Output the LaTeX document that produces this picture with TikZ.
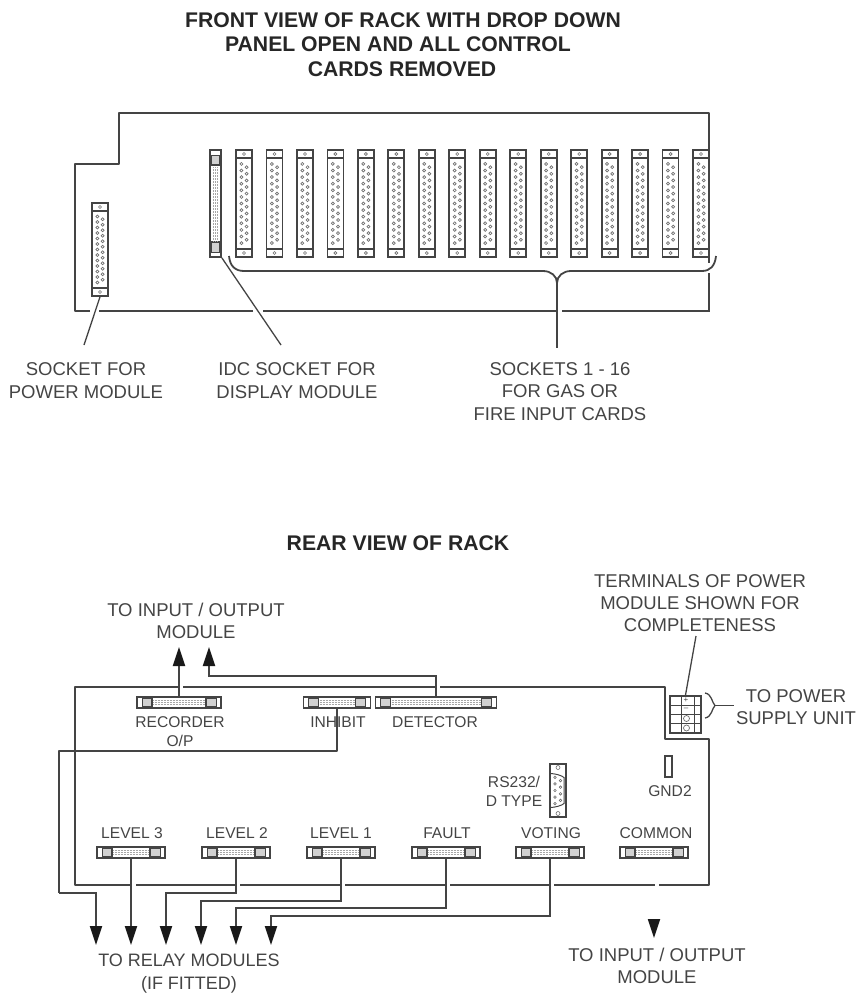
\documentclass[tikz,border=0pt]{standalone}
\usepackage{fontspec}
\setmainfont{Liberation Sans}
\usetikzlibrary{arrows.meta}
\definecolor{inkgray}{HTML}{444444}
\definecolor{pingray}{HTML}{707070}

\tikzset{
  wire/.style={draw=inkgray,line width=1.8pt},
  tipline/.style={wire,-{Triangle[length=19pt,width=12pt,color=black!90]}},
  heading/.style={font=\bfseries\fontsize{21.2}{24}\selectfont,text=black!85,inner sep=0pt},
  biglabel/.style={font=\fontsize{18.5}{22.3}\selectfont,text=inkgray,align=center,inner sep=0pt},
  smalllabel/.style={font=\fontsize{15.6}{19}\selectfont,text=inkgray,align=center,inner sep=0pt},
  % half height, pin pitch
  dsocket/.style 2 args={draw=inkgray,line width=1.8pt,minimum width=16pt,minimum height=2*#1,
    inner sep=0pt,path picture={
      \begin{scope}[shift={(path picture bounding box.center)}]
        \draw[inkgray,line width=1.1pt] (-8,-#1+8) -- (8,-#1+8) (-8,#1-8) -- (8,#1-8);
        \draw[pingray,line width=.6pt] (0,-#1+4) circle (1.5) (0,#1-4) circle (1.5);
        \foreach \p in {-6,...,6}
          \draw[pingray,line width=.7pt] (-2.6,\p*#2) circle (1.5);
        \foreach \p in {-6,...,5}
          \draw[pingray,line width=.7pt] (2.6,\p*#2+.5*#2) circle (1.5);
      \end{scope}}},
  % half width of the strip
  stripsocket/.style={draw=inkgray,line width=1.8pt,minimum width=2*#1,minimum height=11pt,
    inner sep=0pt,path picture={
      \begin{scope}[shift={(path picture bounding box.center)}]
        \fill[black!18] (-#1+5,-4) rectangle (-#1+15,4) (#1-15,-4) rectangle (#1-5,4);
        \draw[inkgray,line width=.5pt] (-#1+5,-4) rectangle (-#1+15,4) (#1-15,-4) rectangle (#1-5,4);
        \draw[inkgray,line width=1.1pt] (-#1+15,-6) -- (-#1+15,6) (#1-15,-6) -- (#1-15,6);
        \draw[black!35,line width=.5pt,densely dotted] (-#1+16,-2) -- (#1-16,-2) (-#1+16,0) -- (#1-16,0) (-#1+16,2) -- (#1-16,2);
      \end{scope}}}
}

\begin{document}
\begin{tikzpicture}[x=1pt,y=-1pt]
  \useasboundingbox (0,0) rectangle (861,993);

  % front view
  \node[heading] (title1) at (403,20) {FRONT VIEW OF RACK WITH DROP DOWN};
  \node[heading] (title2) at (398,44) {PANEL OPEN AND ALL CONTROL};
  \node[heading] (title3) at (402,69) {CARDS REMOVED};

  \node[dsocket={46.5}{5.5}] (power) at (100,249.5) {};
  \node[stripsocket=53.5,rotate=90] (idc) at (215.5,203.5) {};
  \foreach \i [evaluate=\i as \x using {244+30.47*(\i-1)}] in {1,...,16}
    \node[dsocket={53.5}{6.6}] (sock\i) at (\x,203.5) {};

  \draw[wire,line join=round] (90,311) -- (75,311) -- (75,164) -- (119,164) -- (119,113)
    -- (709,113) -- (709,263);
  \draw[wire] (709,273) -- (709,311) -- (562,311);
  \draw[wire] (557,311) -- (263,311);
  \draw[wire] (253,311) -- (99,311);

  % brace under the sockets
  \coordinate (braceL) at (229,256);
  \coordinate (braceR) at (716,256);
  \coordinate (braceTip) at (557,283);
  \coordinate (braceEnd) at (557,348);
  \draw[wire] (braceL) .. controls (230,266) and (235,271) .. (244,271) -- (543,271)
    .. controls (551,271) and (557,276) .. (braceTip)
    .. controls (557,276) and (563,271) .. (571,271) -- (702,271)
    .. controls (710,271) and (715,266) .. (braceR);
  \draw[wire] (braceTip) -- (braceEnd);

  \coordinate (powerEnd) at (84,345);
  \coordinate (idcEnd) at (281,345);
  \draw[wire,line width=1.3pt] (power.south) -- (powerEnd);
  \draw[wire,line width=1.3pt] (idc.south west) -- (idcEnd);

  \node[biglabel] (powerText) at (86,380.5) {SOCKET FOR\\POWER MODULE};
  \node[biglabel] (idcText) at (297,380.5) {IDC SOCKET FOR\\DISPLAY MODULE};
  \node[biglabel] (sockText) at (560,391.5) {SOCKETS 1 - 16\\FOR GAS OR\\FIRE INPUT CARDS};

  % rear view
  \node[heading] (title4) at (398,543) {REAR VIEW OF RACK};

  \draw[wire,line join=round] (178,687) -- (75,687) -- (75,885) -- (131,885);
  \draw[wire,line join=round] (183,687) -- (436,687);
  \draw[wire,line join=round] (440,687) -- (665,687) -- (665,739) -- (709,739) -- (709,885) -- (659,885);
  \foreach \a/\b in {136/236,240/341,345/446,450/550,554/655}
    \draw[wire] (\a,885) -- (\b,885);

  \node[stripsocket=42] (recorder) at (179,702.5) {};
  \node[stripsocket=33.5] (inhibit) at (337,702.5) {};
  \node[stripsocket=60.5] (detector) at (436,702.5) {};
  \node[stripsocket=34] (lvl3) at (131,852.5) {};
  \node[stripsocket=34] (lvl2) at (236,852.5) {};
  \node[stripsocket=34] (lvl1) at (341,852.5) {};
  \node[stripsocket=34] (fault) at (446,852.5) {};
  \node[stripsocket=34] (voting) at (550,852.5) {};
  \node[stripsocket=34] (common) at (654,852.5) {};

  \node[smalllabel] (recorderText) at (180,731.5) {RECORDER\\O/P};
  \node[smalllabel] (inhibitText) at (338,722) {INHIBIT};
  \node[smalllabel] (detectorText) at (435,722) {DETECTOR};
  \node[smalllabel] (lvl3Text) at (132,833) {LEVEL 3};
  \node[smalllabel] (lvl2Text) at (237,833) {LEVEL 2};
  \node[smalllabel] (lvl1Text) at (341,833) {LEVEL 1};
  \node[smalllabel] (faultText) at (447,833) {FAULT};
  \node[smalllabel] (votingText) at (551,833) {VOTING};
  \node[smalllabel] (commonText) at (656,833) {COMMON};

  % rs232 connector
  \node[draw=inkgray,line width=1.8pt,minimum width=16pt,minimum height=53pt,inner sep=0pt,path picture={
      \begin{scope}[shift={(path picture bounding box.center)}]
        \draw[inkgray,line width=1pt] (-8,-17) .. controls (-3,-17) and (4,-15) .. (6,-13) -- (6,13)
          .. controls (4,15) and (-3,17) .. (-8,17);
        \draw[pingray,line width=.6pt] (0,-23) circle (2) (0,23) circle (2);
        \foreach \p in {-2,...,2}
          \draw[pingray,line width=.6pt] (-3,\p*6.6) circle (1.3);
        \foreach \p in {-1.5,-.5,.5,1.5}
          \draw[pingray,line width=.6pt] (2.5,\p*6.6) circle (1.3);
      \end{scope}}] (rs232) at (558,790.5) {};
  \node[smalllabel] (rs232Text) at (514,791) {RS232/\\D TYPE};

  \node[draw=inkgray,line width=1.3pt,minimum width=7pt,minimum height=21pt,inner sep=0pt] (gnd) at (668.5,766.5) {};
  \node[smalllabel] (gndText) at (670,791) {GND2};

  % power terminals
  \node[draw=inkgray,line width=1.8pt,minimum width=31pt,minimum height=37pt,inner sep=0pt,path picture={
      \begin{scope}[shift={(path picture bounding box.center)}]
        \draw[inkgray,line width=.5pt] (-4.5,-19) -- (-4.5,19) (8.5,-19) -- (8.5,19)
          (-16,-9.5) -- (16,-9.5) (-16,-.5) -- (16,-.5) (-16,8.5) -- (16,8.5);
        \draw[pingray,line width=.7pt] (1,4) circle (3) (1,13.5) circle (3);
      \end{scope}}] (term) at (685.5,714.5) {};
  \node[inkgray,inner sep=0pt,font=\fontsize{8}{8}\selectfont] (termPlus) at (686,700.5) {+};
  \node[inkgray,inner sep=0pt,font=\fontsize{8}{8}\selectfont] (termMinus) at (686,709.5) {--};

  \coordinate (termEnd) at (696,636);
  \draw[wire,line width=1.3pt] (term.north) -- (termEnd);
  \node[biglabel,font=\fontsize{18.5}{22}\selectfont] (termText) at (700,603) {TERMINALS OF POWER\\MODULE SHOWN FOR\\COMPLETENESS};

  \coordinate (supplyA) at (705,693);
  \coordinate (supplyB) at (705,718);
  \coordinate (supplyMid) at (715,705.5);
  \coordinate (supplyEnd) at (734,705.5);
  \draw[wire,line width=1.3pt] (supplyA) .. controls (712,694) and (712,703) .. (supplyMid)
    .. controls (712,708) and (712,717) .. (supplyB);
  \draw[wire,line width=1.3pt] (supplyMid) -- (supplyEnd);
  \node[biglabel,font=\fontsize{18.5}{22}\selectfont] (supplyText) at (796,707) {TO POWER\\SUPPLY UNIT};

  % arrows out of the rack
  \coordinate (upA) at (179,647);
  \coordinate (upB) at (209,647);
  \coordinate (detectorBend) at (436,676);
  \draw[tipline] (recorder.north) -- (upA);
  \draw[tipline] (detector.north) -- (detectorBend) -| (upB);
  \node[biglabel,font=\fontsize{18.5}{22}\selectfont] (upText) at (196,621) {TO INPUT / OUTPUT\\MODULE};

  \foreach \n/\x in {1/96,2/131,3/166,4/201,5/236,6/271}
    \coordinate (tip\n) at (\x,945);
  \coordinate (bendA) at (59,751);
  \coordinate (bendB) at (59,893);
  \coordinate (lvl2Bend) at (236,893);
  \coordinate (lvl1Bend) at (341,901);
  \coordinate (faultBend) at (446,908);
  \coordinate (votingBend) at (550,916);
  \draw[wire,line join=round] (inhibit.south) |- (bendA) -- (bendB);
  \draw[tipline] (bendB) -| (tip1);
  \draw[tipline] (lvl3.south) -- (tip2);
  \draw[tipline] (lvl2.south) -- (lvl2Bend) -| (tip3);
  \draw[tipline] (lvl1.south) -- (lvl1Bend) -| (tip4);
  \draw[tipline] (fault.south) -- (faultBend) -| (tip5);
  \draw[tipline] (voting.south) -- (votingBend) -| (tip6);
  \node[biglabel,font=\fontsize{18}{22.5}\selectfont] (relayText) at (189,973.5) {TO RELAY MODULES\\(IF FITTED)};

  \coordinate (downTop) at (654,919);
  \coordinate (downTip) at (654,938);
  \draw[tipline] (downTop) -- (downTip);
  \node[biglabel,font=\fontsize{18.5}{22}\selectfont] (downText) at (657,966) {TO INPUT / OUTPUT\\MODULE};
\end{tikzpicture}
\end{document}
